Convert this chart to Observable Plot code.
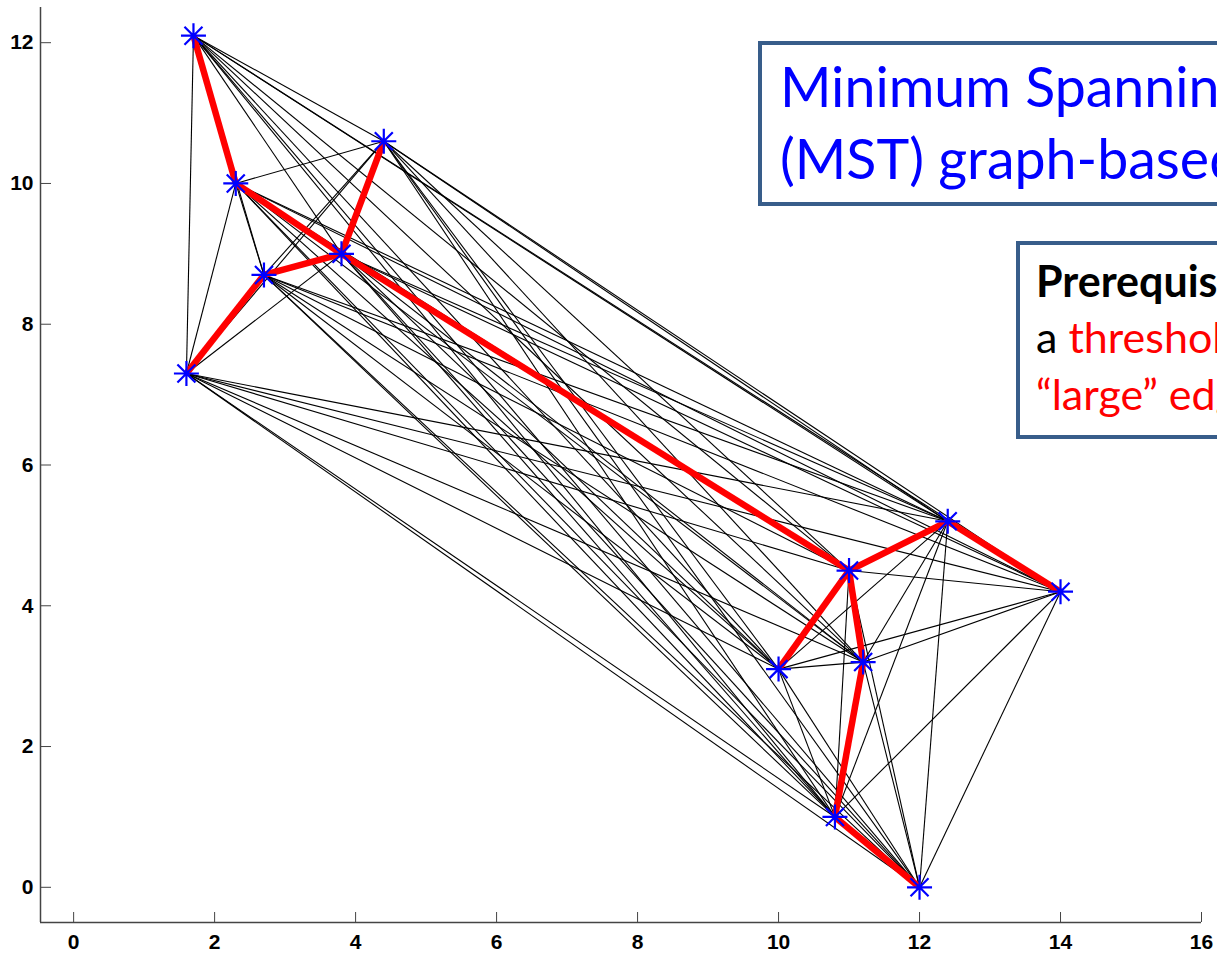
<!DOCTYPE html>
<html><head><meta charset="utf-8">
<script src="https://cdn.jsdelivr.net/npm/d3@7"></script>
<script src="https://cdn.jsdelivr.net/npm/@observablehq/plot@0.6"></script>
<style>
html,body{margin:0;padding:0;background:#fff;overflow:hidden;width:1217px;height:953px;}
#wrap{position:relative;width:1217px;height:953px;overflow:hidden;}
#chart{position:absolute;left:0;top:0;}
.box{position:absolute;background:#fff;border:4.5px solid #385D8A;font-family:Lato,"Open Sans",sans-serif;white-space:nowrap;box-sizing:border-box;overflow:hidden;}
#b1{left:758px;top:41px;width:459px;height:165px;padding:5px 0 0 18px;font-size:55.5px;line-height:72px;color:#0000FF;border-right:none;}
#b2{left:1016px;top:241px;width:201px;height:198px;padding:7.5px 0 0 16px;font-size:43px;line-height:56.5px;color:#000;border-right:none;}
.red{color:#FF0000;}
</style>
</head><body>
<div id="wrap">
<div id="chart"></div>
<div class="box" id="b1">Minimum Spanning Tree<br>(MST) graph-based clustering</div>
<div class="box" id="b2"><b>Prerequisite:</b><br>a <span class="red">threshold for</span><br><span class="red">“large” edges</span></div>
</div>
<script>
// point coordinates
const pointX = [1.7, 2.3, 2.7, 1.6, 3.8, 4.4, 11.0, 12.4, 14.0, 10.0, 11.2, 10.8, 12.0];
const pointY = [12.1, 10.0, 8.7, 7.3, 9.0, 10.6, 4.5, 5.2, 4.2, 3.1, 3.2, 1.0, 0.0];
// minimum spanning tree edges (indices into points)
const mstFrom = [0, 1, 4, 4, 2, 4, 6, 7, 6, 6, 10, 11];
const mstTo   = [1, 4, 5, 2, 3, 6, 7, 8, 9, 10, 11, 12];
// axes
const xTicks = [0, 2, 4, 6, 8, 10, 12, 14, 16];
const yTicks = [0, 2, 4, 6, 8, 10, 12];
const xDomain = [-0.47, 16];
const yDomain = [-0.5, 12.5];

const points = pointX.map((x, i) => ({x, y: pointY[i]}));
const edges = [];
for (let i = 0; i < points.length; i++)
  for (let j = i + 1; j < points.length; j++)
    edges.push({x1: points[i].x, y1: points[i].y, x2: points[j].x, y2: points[j].y});
const mst = mstFrom.map((a, k) => ({x1: points[a].x, y1: points[a].y, x2: points[mstTo[k]].x, y2: points[mstTo[k]].y}));

const asterisk = {
  draw(ctx, size) {
    const r = Math.sqrt(size / Math.PI), d = r * 0.72;
    ctx.moveTo(-r, 0); ctx.lineTo(r, 0);
    ctx.moveTo(0, -r); ctx.lineTo(0, r);
    ctx.moveTo(-d, -d); ctx.lineTo(d, d);
    ctx.moveTo(-d, d); ctx.lineTo(d, -d);
  }
};

const font = {fontSize: 21, fontWeight: "bold", fontFamily: "Liberation Sans, Arial, sans-serif", fill: "#000", tickFormat: d3.format("d")};

const chart = Plot.plot({
  width: 1217,
  height: 953,
  marginLeft: 40,
  marginRight: 16,
  marginTop: 7,
  marginBottom: 31,
  x: {domain: xDomain},
  y: {domain: yDomain},
  style: {background: "transparent", overflow: "visible"},
  marks: [
    Plot.link(edges, {x1: "x1", y1: "y1", x2: "x2", y2: "y2", stroke: "#000", strokeWidth: 1.1}),
    Plot.link(mst, {x1: "x1", y1: "y1", x2: "x2", y2: "y2", stroke: "#FF0000", strokeWidth: 6.5, strokeLinecap: "butt"}),
    Plot.dot(points, {x: "x", y: "y", symbol: asterisk, r: 12.5, stroke: "#0000FF", strokeWidth: 2.2, fill: "none"}),
    Plot.ruleY([yDomain[0]], {stroke: "#444", strokeWidth: 1.5}),
    Plot.ruleX([xDomain[0]], {stroke: "#444", strokeWidth: 1.5}),
    Plot.axisX(xTicks, {tickSize: -10, tickPadding: 22, stroke: "#444", ...font}),
    Plot.axisY(yTicks, {tickSize: -11, tickPadding: 18, stroke: "#444", ...font})
  ]
});
document.getElementById("chart").appendChild(chart);
</script>
</body></html>
